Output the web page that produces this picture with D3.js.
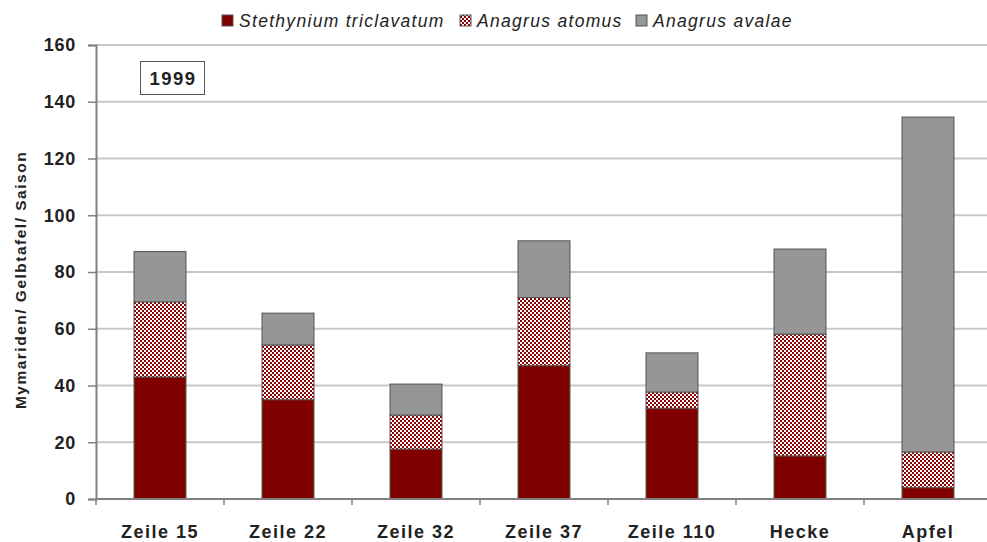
<!DOCTYPE html>
<html><head><meta charset="utf-8">
<script src="https://cdn.jsdelivr.net/npm/d3@7"></script>
<style>body{margin:0;background:#fff;}svg{display:block;font-family:"Liberation Sans",Arial,sans-serif;}</style>
</head><body>
<svg id="c" width="987" height="542"></svg>
<script>
const categories = ["Zeile 15","Zeile 22","Zeile 32","Zeile 37","Zeile 110","Hecke","Apfel"];
const seriesNames = ["Stethynium triclavatum","Anagrus atomus","Anagrus avalae"];
const stethynium = [43, 35, 17.6, 47, 32, 15.2, 4];
const atomus = [26.5, 19.3, 12, 24, 5.7, 42.9, 12.6];
const avalae = [17.7, 11.2, 10.9, 20, 13.8, 30, 118];
const yTicks = [0,20,40,60,80,100,120,140,160];
const yearLabel = "1999";
const yTitle = "Mymariden/ Gelbtafel/ Saison";

(function(){
const svg = d3.select("#c");
const defs = svg.append("defs");
const pat = defs.append("pattern").attr("id","chk").attr("patternUnits","userSpaceOnUse")
  .attr("width",4).attr("height",4);
pat.append("rect").attr("width",4).attr("height",4).attr("fill","#fff");
pat.append("rect").attr("x",0).attr("y",0).attr("width",2).attr("height",2).attr("fill","#8b0000");
pat.append("rect").attr("x",2).attr("y",2).attr("width",2).attr("height",2).attr("fill","#8b0000");

const mL = 96, mR = 992, mT = 45, mB = 499;
const x = d3.scaleBand().domain(categories).range([mL,mR]).paddingInner(0.594).paddingOuter(0.297);
const y = d3.scaleLinear().domain([0,160]).range([mB,mT]);

// gridlines
svg.append("g").selectAll("line").data(yTicks.filter(d=>d>0)).join("line")
  .attr("x1",mL).attr("x2",mR).attr("y1",d=>y(d)).attr("y2",d=>y(d))
  .attr("stroke","#c8c8c8").attr("stroke-width",2);

const data = categories.map((c,i)=>({cat:c, s:stethynium[i], a:atomus[i], v:avalae[i]}));
const stack = d3.stack().keys(["s","a","v"])(data);
const fills = ["#800000","url(#chk)","#969696"];
const g = svg.append("g");
stack.forEach((layer,k)=>{
  g.selectAll(null).data(layer).join("rect")
    .attr("x",d=>x(d.data.cat)).attr("width",x.bandwidth())
    .attr("y",d=>y(d[1])).attr("height",d=>y(d[0])-y(d[1]))
    .attr("fill",fills[k]).attr("stroke","#555").attr("stroke-width",1);
});

// axes
const yAxis = svg.append("g").attr("transform",`translate(${mL},0)`)
  .call(d3.axisLeft(y).tickValues(yTicks).tickSize(8).tickPadding(12));
yAxis.select(".domain").attr("stroke","#808080").attr("stroke-width",2);
yAxis.selectAll(".tick line").attr("stroke","#808080").attr("stroke-width",1.5);
yAxis.selectAll("text").attr("font-size",18).attr("font-weight","bold").attr("fill","#222")
  .attr("letter-spacing",0.7);

const xAxis = svg.append("g").attr("transform",`translate(0,${mB})`)
  .call(d3.axisBottom(x).tickSize(0).tickPadding(26));
xAxis.select(".domain").attr("stroke","#808080").attr("stroke-width",2).attr("d",`M${mL},0H${mR}`);
xAxis.selectAll("text").attr("font-size",18).attr("font-weight","bold").attr("fill","#222")
  .attr("letter-spacing",1.5);
const step = x.step();
svg.append("g").selectAll("line").data(d3.range(categories.length+1)).join("line")
  .attr("x1",i=>mL+i*step).attr("x2",i=>mL+i*step).attr("y1",mB).attr("y2",mB+6)
  .attr("stroke","#808080").attr("stroke-width",1.5);

// y title
svg.append("text").attr("transform","translate(26,280) rotate(-90)").attr("text-anchor","middle")
  .attr("font-size",15.5).attr("font-weight","bold").attr("fill","#222")
  .attr("letter-spacing",1.5).text(yTitle);

// year box
svg.append("rect").attr("x",140.5).attr("y",61.5).attr("width",64).attr("height",33)
  .attr("fill","#fff").attr("stroke","#555").attr("stroke-width",1);
svg.append("text").attr("x",173).attr("y",85).attr("text-anchor","middle")
  .attr("font-size",18.5).attr("font-weight","bold").attr("fill","#222")
  .attr("letter-spacing",1.5).text(yearLabel);

// legend
const legX = [222, 460, 636];
const lg = svg.append("g");
seriesNames.forEach((n,i)=>{
  lg.append("rect").attr("x",legX[i]).attr("y",15).attr("width",11).attr("height",11)
    .attr("fill",fills[i]).attr("stroke","#555").attr("stroke-width",1);
  lg.append("text").attr("x",legX[i]+17).attr("y",27).attr("font-size",17.5)
    .attr("font-style","italic").attr("fill","#222").attr("letter-spacing",1.3).text(n);
});
})();
</script>
</body></html>
